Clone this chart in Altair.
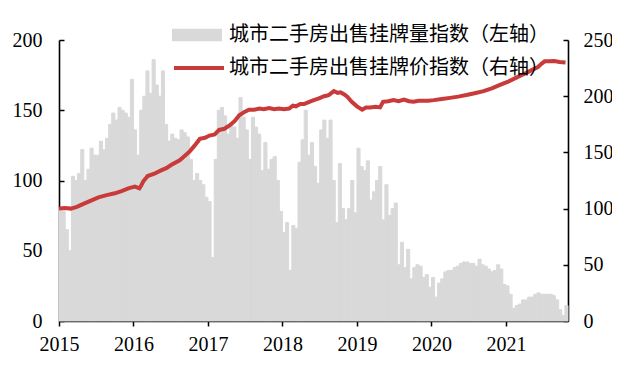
import altair as alt
import pandas as pd

# ---------------- data ----------------
years = [2015, 2016, 2017, 2018, 2019, 2020, 2021]
left_ticks = [0, 50, 100, 150, 200]
right_ticks = [0, 50, 100, 150, 200, 250]

vol_label = "城市二手房出售挂牌量指数（左轴）"
price_label = "城市二手房出售挂牌价指数（右轴）"

# listing volume index (left axis), half-monthly
vol_2015 = [80, 78, 65, 50, 103, 100, 105, 122, 100, 108, 123, 118,
            118, 128, 122, 130, 140, 148, 143, 152, 150, 148, 145, 172]
vol_2016 = [136, 118, 150, 160, 178, 162, 186, 168, 160, 178, 140, 128,
            133, 130, 129, 136, 134, 131, 115, 100, 105, 100, 97, 88]
vol_2017 = [85, 45, 115, 150, 152, 146, 133, 141, 138, 130, 159, 145,
            136, 115, 145, 138, 133, 107, 127, 108, 115, 117, 100, 78]
vol_2018 = [63, 70, 36, 68, 66, 113, 129, 150, 118, 127, 110, 98,
            136, 143, 130, 143, 100, 70, 112, 80, 72, 80, 100, 77]
vol_2019 = [123, 110, 107, 114, 86, 92, 100, 110, 72, 97, 75, 80,
            84, 40, 56, 38, 51, 30, 38, 40, 39, 31, 33, 24]
vol_2020 = [31, 17, 27, 30, 35, 36, 36, 38, 39, 41, 42, 42,
            41, 41, 39, 44, 40, 39, 37, 35, 36, 40, 37, 26]
vol_2021 = [25, 19, 9, 11, 12, 15, 15, 17, 17, 19, 20, 19,
            19, 19, 19, 18, 15, 8, 4, 11]

# listing price index (right axis)
price_t = [2015.00, 2015.08, 2015.16, 2015.24, 2015.32, 2015.39, 2015.46, 2015.53,
           2015.64, 2015.75, 2015.84, 2015.93, 2016.02, 2016.08, 2016.10, 2016.13,
           2016.19, 2016.28, 2016.37, 2016.44, 2016.51, 2016.62, 2016.69, 2016.75,
           2016.82, 2016.89, 2016.96, 2017.02, 2017.09, 2017.15, 2017.22, 2017.29,
           2017.36, 2017.42, 2017.49, 2017.55, 2017.62, 2017.69, 2017.75, 2017.82,
           2017.89, 2017.95, 2018.02, 2018.09, 2018.14, 2018.18, 2018.24, 2018.29,
           2018.36, 2018.42, 2018.49, 2018.56, 2018.62, 2018.69, 2018.74, 2018.78,
           2018.83, 2018.87, 2018.93, 2019.00, 2019.07, 2019.12, 2019.18, 2019.25,
           2019.31, 2019.35, 2019.42, 2019.49, 2019.56, 2019.63, 2019.70, 2019.76,
           2019.83, 2019.89, 2019.96, 2020.03, 2020.14, 2020.25, 2020.36, 2020.47,
           2020.58, 2020.70, 2020.81, 2020.92, 2021.03, 2021.14, 2021.25, 2021.34,
           2021.43, 2021.48, 2021.52, 2021.58, 2021.65, 2021.72, 2021.80]
price_v = [100, 100.5, 100, 101.5, 104, 106, 108, 110,
           112, 113.6, 115.5, 118, 119.5, 118, 120, 124,
           129, 131, 134, 136, 139, 143, 147, 150.5,
           156, 162, 163, 165, 166, 170, 171, 174,
           178, 183, 186, 188, 188, 189, 188.5, 189.5,
           188.5, 189, 188.5, 189, 191.5, 191, 193, 193,
           195, 196.5, 198, 200, 201, 204.5, 203, 203.5,
           201.5, 199.5, 195, 191, 188, 190, 190, 190.5,
           190, 195, 195.5, 196.5, 195.5, 197, 195.5, 195,
           196, 196, 196, 196.5, 197.5, 198.5, 199.6, 201,
           202.6, 204.5, 207, 210, 213, 216.5, 220, 223,
           226, 229, 231, 231, 231.3, 230.5, 230]

GRAY = "#D9D9D9"
RED = "#C93A3A"
SERIF = "Liberation Serif"
CJK = "Noto Sans CJK SC"

# ---------------- frames ----------------
vol = vol_2015 + vol_2016 + vol_2017 + vol_2018 + vol_2019 + vol_2020 + vol_2021
step = 1.0 / 24
bars_df = pd.DataFrame({"t": [2015 + i * step for i in range(len(vol))], "v": vol})
bars_df["t2"] = bars_df["t"] + step
bars_df["s"] = vol_label

line_df = pd.DataFrame({"t": price_t, "v": price_v})
line_df["s"] = price_label

x_scale = alt.Scale(domain=[2015, 2015 + len(vol) * step], nice=False, zero=False)
x_axis = alt.Axis(values=years, format="d", title=None, grid=False, ticks=True,
                  tickSize=5, tickWidth=1.5, labelPadding=8, labelFlush=False,
                  labelOverlap=False)

inward = alt.ExprRef(expr="-5")

bars = alt.Chart(bars_df).mark_bar(stroke=GRAY, strokeWidth=1).encode(
    x=alt.X("t:Q", scale=x_scale, axis=x_axis),
    x2="t2:Q",
    y=alt.Y("v:Q", scale=alt.Scale(domain=[0, 200], nice=False),
            axis=alt.Axis(orient="left", values=left_ticks, title=None, grid=False,
                          ticks=True, tickSize=inward, tickWidth=1.5,
                          labelPadding=22, labelFlush=False, labelOverlap=False)),
    y2=alt.datum(0),
    color=alt.Color("s:N", scale=alt.Scale(range=[GRAY]), title=None,
                    legend=alt.Legend(orient="none", legendX=113, legendY=-30,
                                      symbolType="M-1,-0.25H1V0.25H-1Z", symbolSize=2500,
                                      symbolStrokeWidth=0, symbolFillColor=GRAY,
                                      labelFont=CJK, labelFontSize=20, labelColor="black",
                                      labelLimit=600, labelOffset=7, padding=0)),
)

line = alt.Chart(line_df).mark_line(strokeWidth=4).encode(
    x=alt.X("t:Q", scale=x_scale, axis=x_axis),
    y=alt.Y("v:Q", scale=alt.Scale(domain=[0, 250], nice=False),
            axis=alt.Axis(orient="right", values=right_ticks, title=None, grid=False,
                          ticks=True, tickSize=inward, tickWidth=1.5,
                          labelPadding=20, labelFlush=False, labelOverlap=False)),
    stroke=alt.Stroke("s:N", scale=alt.Scale(range=[RED]), title=None,
                      legend=alt.Legend(orient="none", legendX=113, legendY=1,
                                        symbolType="M-1,0H1", symbolSize=2500,
                                        symbolStrokeWidth=4, symbolStrokeColor=RED,
                                        labelFont=CJK, labelFontSize=20, labelColor="black",
                                        labelLimit=600, labelOffset=3, padding=0)),
)

chart = alt.layer(bars, line).resolve_scale(y="independent").properties(
    width=509, height=281,
    autosize=alt.AutoSizeParams(type="none"),
    padding={"left": 51, "top": 32, "right": 44, "bottom": 36},
    background="white",
).configure_view(stroke=None).configure_axis(
    domainColor="black", domainWidth=1.6, labelFont=SERIF, labelFontSize=20,
    labelColor="black", tickColor="black",
)

chart.save("out.html", embed_options={"renderer": "svg", "actions": False})
